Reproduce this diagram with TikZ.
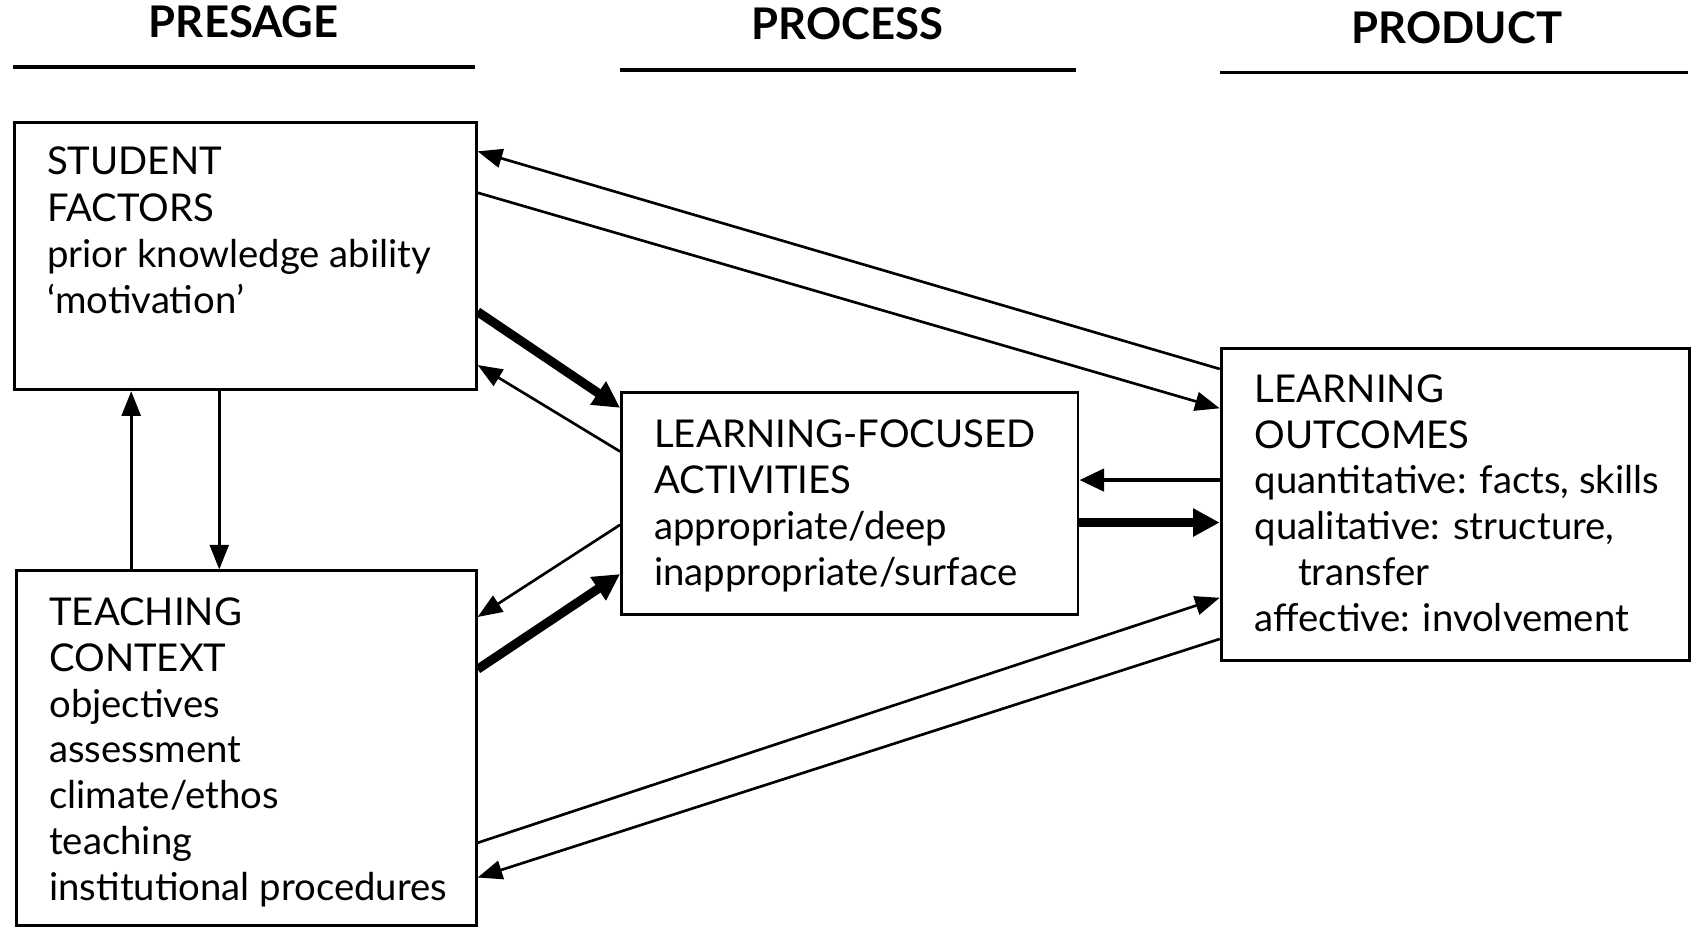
\documentclass[tikz,border=0pt]{standalone}
\usepackage{fontspec}
\setmainfont{Lato}
\usetikzlibrary{arrows.meta,calc}
\tikzset{
  box/.style={draw, line width=0.75pt, rectangle, inner sep=0pt, anchor=north west},
  lbl/.style={anchor=base west, inner sep=0pt, font=\fontsize{10.1}{12}\selectfont},
  hdr/.style={anchor=base, inner sep=0pt, font=\fontsize{11.5}{13}\selectfont\bfseries},
  rule/.style={line width=0.9pt},
  thin/.style={line width=0.7pt, -{Triangle[length=6.5pt,width=5pt]}},
  med/.style={line width=1.2pt, -{Triangle[length=6.5pt,width=5.8pt]}},
  thick/.style={line width=2.4pt, -{Triangle[length=7pt,width=7pt]}},
}
\begin{document}
\begin{tikzpicture}[x=0.01cm,y=-0.01cm]
\useasboundingbox (0,0) rectangle (1568,861);

% headers
\node[hdr] (h1) at (226,35) {PRESAGE};
\node[hdr] (h2) at (786,37) {PROCESS};
\node[hdr] (h3) at (1351,40) {PRODUCT};
\draw[rule] (12,62) -- (440,62);
\draw[rule] (575,65) -- (998,65);
\draw[rule] (1131,67) -- (1565,67);

% boxes
\node[box, minimum width=4.28cm, minimum height=2.48cm] (sf) at (12,112) {};
\node[box, minimum width=4.26cm, minimum height=3.29cm] (tc) at (14,528) {};
\node[box, minimum width=4.23cm, minimum height=2.05cm] (la) at (575,363) {};
\node[box, minimum width=4.34cm, minimum height=2.89cm] (lo) at (1131,322) {};

% texts
\foreach \t [count=\i] in {STUDENT, FACTORS, prior knowledge ability, {`motivation'}}
  \node[lbl] (sft\i) at ($(sf.north west)+(31,50+43*\i-43)$) {\t};
\foreach \t [count=\i] in {TEACHING, CONTEXT, objectives, assessment, climate/ethos, teaching, institutional procedures}
  \node[lbl] (tct\i) at ($(tc.north west)+(31,52+42.5*\i-42.5)$) {\t};
\foreach \t [count=\i] in {LEARNING-FOCUSED, ACTIVITIES, appropriate/deep, inappropriate/surface}
  \node[lbl] (lat\i) at ($(la.north west)+(31,52+42.5*\i-42.5)$) {\t};
\node[lbl] (lot1) at ($(lo.north west)+(32,51)$) {LEARNING};
\node[lbl] (lot2) at ($(lo.north west)+(32,93.5)$) {OUTCOMES};
\node[lbl] (lot3) at ($(lo.north west)+(32,136)$) {quantitative: facts, skills};
\node[lbl] (lot4) at ($(lo.north west)+(32,178.5)$) {qualitative: structure,};
\node[lbl] (lot5) at ($(lo.north west)+(72,221)$) {transfer};
\node[lbl] (lot6) at ($(lo.north west)+(32,263.5)$) {affective: involvement};

% vertical arrows
\coordinate (v1) at ($(tc.north west)!0.251!(tc.north east)$);
\coordinate (v2) at ($(sf.south west)!0.444!(sf.south east)$);
\draw[thin] (v1) -- (v1 |- sf.south);
\draw[thin] (v2) -- (v2 |- tc.north);

% student factors <-> learning outcomes
\draw[thin] ($(lo.north west)!0.069!(lo.south west)$) -- ($(sf.north east)!0.113!(sf.south east)$);
\draw[thin] ($(sf.north east)!0.266!(sf.south east)$) -- ($(lo.north west)!0.194!(lo.south west)$);

% student factors <-> activities
\draw[thick] ($(sf.north east)!0.706!(sf.south east)$) -- ($(la.north west)!0.073!(la.south west)$);
\draw[thin] ($(la.north west)!0.268!(la.south west)$) -- ($(sf.north east)!0.903!(sf.south east)$);

% teaching context <-> activities
\draw[thin] ($(la.north west)!0.595!(la.south west)$) -- ($(tc.north east)!0.133!(tc.south east)$);
\draw[thick] ($(tc.north east)!0.279!(tc.south east)$) -- ($(la.north west)!0.815!(la.south west)$);

% activities <-> outcomes
\coordinate (p7) at ($(lo.north west)!0.422!(lo.south west)$);
\coordinate (p8) at ($(la.north east)!0.585!(la.south east)$);
\draw[med] (p7) -- (la.east |- p7);
\draw[thick] (p8) -- (lo.west |- p8);

% teaching context <-> outcomes
\draw[thin] ($(tc.north east)!0.764!(tc.south east)$) -- ($(lo.north west)!0.796!(lo.south west)$);
\draw[thin] ($(lo.north west)!0.927!(lo.south west)$) -- ($(tc.north east)!0.861!(tc.south east)$);
\end{tikzpicture}
\end{document}
